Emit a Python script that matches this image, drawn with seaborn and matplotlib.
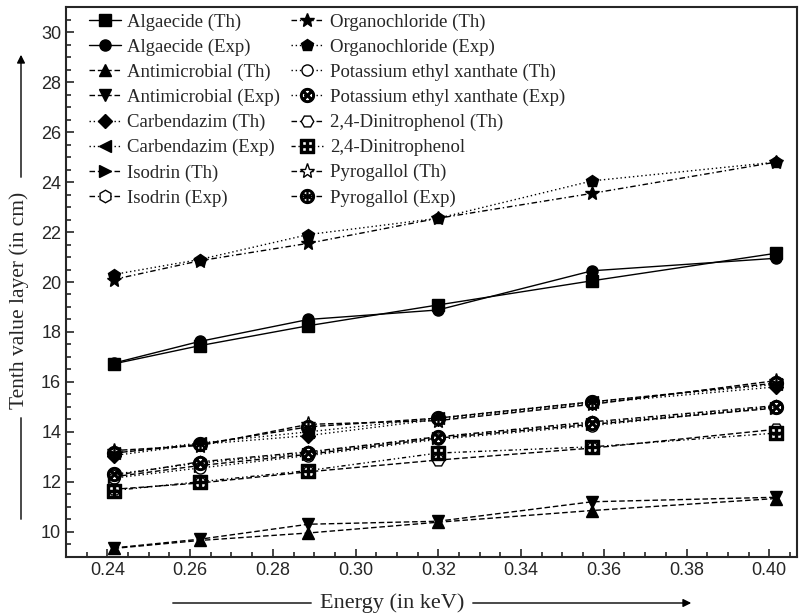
import numpy as np
import pandas as pd
import matplotlib
matplotlib.use("Agg")
import matplotlib.pyplot as plt
from matplotlib.ticker import MultipleLocator, FormatStrFormatter
import seaborn as sns

# energies (keV) shared by every series
energy = [0.2415, 0.2623, 0.2886, 0.3199, 0.3572, 0.4016]

algaecide_th = [16.72, 17.45, 18.25, 19.08, 20.05, 21.15]
algaecide_exp = [16.75, 17.62, 18.50, 18.88, 20.45, 20.95]
antimicrobial_th = [9.33, 9.65, 9.95, 10.38, 10.85, 11.33]
antimicrobial_exp = [9.35, 9.70, 10.30, 10.42, 11.20, 11.38]
carbendazim_th = [13.05, 13.50, 13.85, 14.50, 15.15, 15.80]
carbendazim_exp = [13.15, 13.55, 14.00, 14.55, 15.20, 15.90]
isodrin_th = [12.20, 12.65, 13.10, 13.75, 14.30, 14.95]
isodrin_exp = [12.25, 12.80, 13.20, 13.80, 14.40, 15.05]
organochloride_th = [20.10, 20.85, 21.55, 22.55, 23.55, 24.80]
organochloride_exp = [20.30, 20.90, 21.90, 22.55, 24.05, 24.80]
pex_th = [12.15, 12.55, 13.05, 13.70, 14.25, 15.00]
pex_exp = [12.30, 12.75, 13.15, 13.80, 14.35, 15.00]
dnp_th = [11.70, 11.95, 12.40, 12.87, 13.35, 14.10]
dnp_exp = [11.65, 12.00, 12.45, 13.15, 13.40, 13.95]
pyrogallol_th = [13.25, 13.45, 14.30, 14.45, 15.10, 16.05]
pyrogallol_exp = [13.15, 13.50, 14.20, 14.55, 15.20, 15.95]

labels = ["Algaecide (Th)", "Algaecide (Exp)", "Antimicrobial (Th)", "Antimicrobial (Exp)",
          "Carbendazim (Th)", "Carbendazim (Exp)", "Isodrin (Th)", "Isodrin (Exp)",
          "Organochloride (Th)", "Organochloride (Exp)", "Potassium ethyl xanthate (Th)",
          "Potassium ethyl xanthate (Exp)", "2,4-Dinitrophenol (Th)", "2,4-Dinitrophenol",
          "Pyrogallol (Th)", "Pyrogallol (Exp)"]
series = [algaecide_th, algaecide_exp, antimicrobial_th, antimicrobial_exp,
          carbendazim_th, carbendazim_exp, isodrin_th, isodrin_exp,
          organochloride_th, organochloride_exp, pex_th, pex_exp,
          dnp_th, dnp_exp, pyrogallol_th, pyrogallol_exp]

# (marker, linestyle, open marker?, size)
styles = [
    ("s", "-", False, 8), ("o", "-", False, 8),
    ("^", (0, (4, 2)), False, 8), ("v", (0, (4, 2)), False, 8),
    ("D", (0, (1, 2)), False, 7), ("<", (0, (1, 2)), False, 8),
    (">", (0, (4, 2)), False, 8), ("h", (0, (4, 2, 1, 2)), True, 9),
    ("*", (0, (4, 2, 1, 2)), False, 10), ("p", (0, (1, 2)), False, 9),
    ("o", (0, (1, 2)), True, 8), (r"$\otimes$", (0, (1, 2)), False, 10),
    ("H", (0, (4, 2)), True, 9), (r"$\boxplus$", (0, (3, 2, 1, 2, 1, 2)), False, 10),
    ("*", (0, (4, 2)), True, 11), (r"$\circledast$", (0, (4, 2)), False, 10),
]

df = pd.DataFrame({lab: vals for lab, vals in zip(labels, series)})
df["Energy"] = energy

sns.set_style("ticks")
plt.rcParams["font.family"] = ["Liberation Sans", "DejaVu Sans"]

fig = plt.figure(figsize=(8, 6.14), dpi=100)
ax = fig.add_axes([66 / 800, 1 - 556.7 / 614, 731 / 800, 549.4 / 614])

for lab, (mk, ls, hollow, ms) in zip(labels, styles):
    sns.lineplot(data=df, x="Energy", y=lab, ax=ax, color="black", linestyle=ls,
                 linewidth=1.0, marker=mk, markersize=ms,
                 mfc="white" if hollow else "black", mec="black", mew=1.0, label=lab)

ax.set_xlim(0.23, 0.4067)
ax.set_ylim(9, 31)
ax.xaxis.set_major_locator(MultipleLocator(0.02))
ax.xaxis.set_minor_locator(MultipleLocator(0.005))
ax.xaxis.set_major_formatter(FormatStrFormatter("%.2f"))
ax.yaxis.set_major_locator(MultipleLocator(2))
ax.yaxis.set_minor_locator(MultipleLocator(0.5))
ax.tick_params(which="both", direction="in", labelsize=13, width=1.2)
ax.tick_params(which="major", length=6)
ax.tick_params(which="minor", length=3.5)
ax.set_xlabel("")
ax.set_ylabel("")
for sp in ax.spines.values():
    sp.set_linewidth(1.5)
    sp.set_visible(True)

ax.legend(ncol=2, loc="upper left", bbox_to_anchor=(0.017, 1.008), frameon=False,
          prop={"family": "Liberation Serif", "size": 13.5}, handlelength=1.7,
          handletextpad=0.35, columnspacing=0.6, labelspacing=0.42, borderaxespad=0.15)

serif = "Liberation Serif"
fig.text(19 / 800, 1 - 300 / 614, "Tenth value layer (in cm)", rotation=90,
         ha="center", va="center", family=serif, size=15.5)
fig.text(392 / 800, 1 - 603 / 614, "Energy (in keV)", ha="center", va="center",
         family=serif, size=16)

ah = dict(arrowstyle="-|>", color="black", lw=1.0, mutation_scale=12)
ln = dict(arrowstyle="-", color="black", lw=1.0)
ax.annotate("", xy=(21, 614 - 415), xytext=(21, 614 - 522), xycoords="figure pixels",
            textcoords="figure pixels", arrowprops=ln)
ax.annotate("", xy=(21, 614 - 52), xytext=(21, 614 - 180), xycoords="figure pixels",
            textcoords="figure pixels", arrowprops=ah)
ax.annotate("", xy=(314, 614 - 603), xytext=(170, 614 - 603), xycoords="figure pixels",
            textcoords="figure pixels", arrowprops=ln)
ax.annotate("", xy=(694, 614 - 603), xytext=(470, 614 - 603), xycoords="figure pixels",
            textcoords="figure pixels", arrowprops=ah)

fig.savefig("out.png", dpi=100)
